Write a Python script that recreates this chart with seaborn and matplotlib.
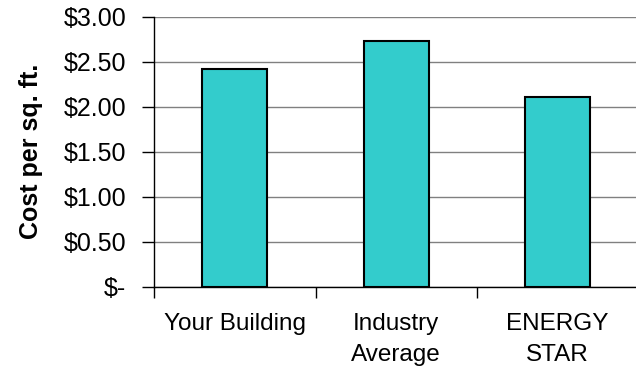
import matplotlib
matplotlib.use("Agg")
import matplotlib.pyplot as plt
import seaborn as sns
import pandas as pd
from matplotlib.ticker import FixedLocator, FuncFormatter

categories = ["Your Building", "Industry\nAverage", "ENERGY\nSTAR"]
cost_per_sqft = [2.42, 2.73, 2.11]
y_ticks = [0.0, 0.5, 1.0, 1.5, 2.0, 2.5, 3.0]

sns.set_theme(style="white")
plt.rcParams["font.family"] = ["Liberation Sans", "DejaVu Sans"]

df = pd.DataFrame({"category": categories, "cost": cost_per_sqft})

fig = plt.figure(figsize=(6.36, 3.68), dpi=100)
ax = fig.add_axes([154 / 636, 81.5 / 368, 484.5 / 636, 269.5 / 368])

sns.barplot(data=df, x="category", y="cost", ax=ax, color="#33CCCC",
            saturation=1, width=0.40, edgecolor="black", linewidth=1.5,
            zorder=3)

ax.set_xlim(-0.5, 2.5)
ax.set_ylim(0, 3.0)
ax.yaxis.set_major_locator(FixedLocator(y_ticks))
ax.yaxis.set_major_formatter(
    FuncFormatter(lambda v, p: "$-" if v == 0 else f"${v:.2f}"))
ax.grid(axis="y", color="#808080", linewidth=1.0, zorder=0)
ax.set_axisbelow(True)

for side in ("top", "right"):
    ax.spines[side].set_visible(False)
ax.spines["left"].set_color("black")
ax.spines["bottom"].set_color("black")
ax.spines["left"].set_linewidth(1.0)
ax.spines["bottom"].set_linewidth(1.0)

# category separators as outward ticks on the x axis
ax.xaxis.set_minor_locator(FixedLocator([-0.5, 0.5, 1.5]))
ax.tick_params(axis="x", which="major", length=0, pad=19, labelsize=17.5,
               colors="black")
ax.tick_params(axis="x", which="minor", length=8, width=1.0, color="black",
               direction="out", bottom=True)
ax.tick_params(axis="y", which="major", length=9, width=1.0, color="black",
               direction="out", left=True, pad=11, labelsize=18,
               labelcolor="black")
for lbl in ax.get_xticklabels():
    lbl.set_linespacing(1.55)
    lbl.set_verticalalignment("top")

ax.set_xlabel("")
ax.set_ylabel("Cost per sq. ft.", fontsize=18, fontweight="bold",
              color="black", labelpad=15)

fig.savefig("out.png", dpi=100)
